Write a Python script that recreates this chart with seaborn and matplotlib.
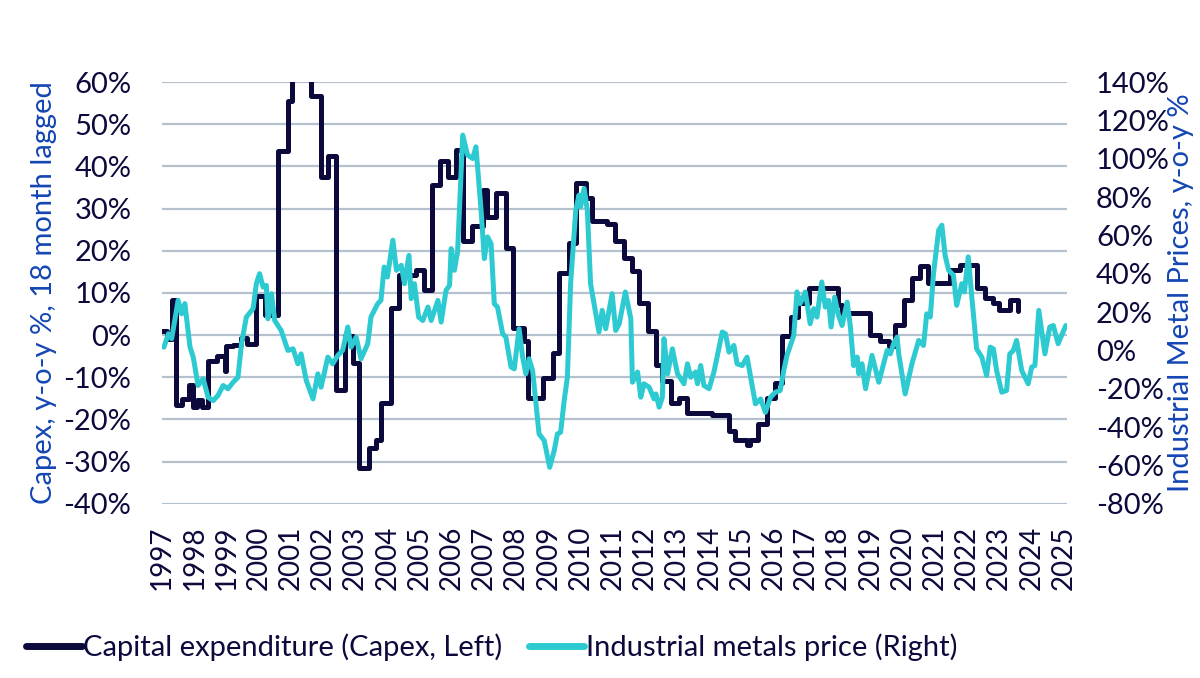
import pandas as pd
import matplotlib.pyplot as plt
import seaborn as sns
from matplotlib.ticker import FuncFormatter
from matplotlib.lines import Line2D

# Colores
NAVY = '#0C0A3C'
CYAN = '#2DCAD1'
BLUE = '#1446B4'
GRID = '#B5C1CC'

# Capex (izquierda), escalones: año decimal donde empieza cada nivel
capex_year = [1997.00, 1997.15, 1997.30, 1997.43, 1997.62, 1997.85, 1997.97, 1998.10, 1998.25,
              1998.43, 1998.72, 1998.95, 1999.00, 1999.20, 1999.45, 1999.65, 1999.93, 2000.19,
              2000.60, 2000.91, 2001.05, 2001.63, 2001.94, 2002.15, 2002.41, 2002.67, 2002.92,
              2003.13, 2003.44, 2003.65, 2003.80, 2004.12, 2004.36, 2004.90, 2005.15, 2005.39,
              2005.62, 2005.87, 2006.13, 2006.36, 2006.63, 2006.96, 2007.08, 2007.36, 2007.68,
              2007.89, 2008.25, 2008.37, 2008.82, 2009.13, 2009.33, 2009.64, 2009.87, 2010.16,
              2010.36, 2010.83, 2011.08, 2011.35, 2011.61, 2011.82, 2012.08, 2012.33, 2012.54,
              2012.80, 2013.06, 2013.30, 2014.09, 2014.60, 2014.81, 2015.17, 2015.27, 2015.50,
              2015.79, 2016.05, 2016.25, 2016.52, 2016.75, 2017.08, 2018.00, 2018.12, 2019.00,
              2019.31, 2019.57, 2019.77, 2020.03, 2020.29, 2020.55, 2020.80, 2021.48, 2021.79,
              2022.30, 2022.56, 2022.82, 2023.00, 2023.33, 2023.59]
capex_val = [1.0, -1.0, 8.4, -16.5, -15.2, -11.8, -17.0, -15.5, -17.0,
             -6.2, -5.0, -8.6, -2.6, -2.3, -0.7, -2.0, 9.2, 4.8,
             43.6, 55.4, 66.0, 56.6, 37.6, 42.5, -13.0, -0.3, -6.6,
             -31.5, -26.8, -24.8, -16.1, 6.4, 14.3, 15.5, 10.7, 35.6,
             41.2, 37.6, 44.0, 22.2, 25.8, 34.5, 28.1, 33.7, 20.6,
             1.7, -1.5, -15.0, -10.2, -4.3, 14.7, 21.8, 36.0, 32.5,
             27.0, 26.3, 22.4, 18.3, 15.1, 7.6, 0.9, -7.0, -11.0,
             -16.1, -15.0, -18.5, -18.9, -22.8, -24.8, -26.0, -24.8, -21.0,
             -15.0, -11.4, -0.3, 4.4, 7.6, 11.1, 7.2, 5.2, 0.1,
             -1.5, -2.7, 2.5, 8.4, 13.5, 16.3, 12.4, 15.5, 16.7,
             11.1, 8.8, 7.6, 6.0, 8.4, 5.6]

# Precio de metales industriales (derecha), y-o-y %
metal_year = [1997.06, 1997.20, 1997.30, 1997.50, 1997.61, 1997.71, 1997.87, 1997.97, 1998.12,
              1998.28, 1998.43, 1998.59, 1998.74, 1998.90, 1999.05, 1999.21, 1999.36, 1999.47,
              1999.62, 1999.83, 1999.93, 2000.03, 2000.14, 2000.24, 2000.29, 2000.40, 2000.50,
              2000.70, 2000.91, 2001.07, 2001.22, 2001.32, 2001.48, 2001.69, 2001.84, 2001.94,
              2002.15, 2002.30, 2002.46, 2002.61, 2002.77, 2002.87, 2003.03, 2003.18, 2003.39,
              2003.49, 2003.70, 2003.80, 2003.90, 2004.00, 2004.17, 2004.28, 2004.43, 2004.53,
              2004.67, 2004.74, 2004.84, 2004.97, 2005.10, 2005.26, 2005.36, 2005.57, 2005.67,
              2005.82, 2005.93, 2005.98, 2006.08, 2006.18, 2006.34, 2006.49, 2006.65, 2006.75,
              2006.91, 2007.01, 2007.11, 2007.22, 2007.32, 2007.42, 2007.58, 2007.68, 2007.84,
              2007.94, 2008.09, 2008.20, 2008.30, 2008.40, 2008.51, 2008.71, 2008.87, 2009.04,
              2009.18, 2009.28, 2009.38, 2009.49, 2009.59, 2009.69, 2009.85, 2009.95, 2010.00,
              2010.11, 2010.21, 2010.31, 2010.47, 2010.57, 2010.67, 2010.78, 2010.98, 2011.09,
              2011.20, 2011.39, 2011.56, 2011.61, 2011.77, 2011.87, 2011.97, 2012.13, 2012.28,
              2012.34, 2012.44, 2012.54, 2012.59, 2012.70, 2012.85, 2013.01, 2013.21, 2013.32,
              2013.42, 2013.57, 2013.63, 2013.73, 2013.83, 2013.99, 2014.14, 2014.25, 2014.40,
              2014.50, 2014.61, 2014.76, 2014.86, 2015.02, 2015.17, 2015.43, 2015.59, 2015.74,
              2015.90, 2016.05, 2016.20, 2016.31, 2016.41, 2016.62, 2016.72, 2016.82, 2016.98,
              2017.13, 2017.24, 2017.34, 2017.49, 2017.60, 2017.70, 2017.78, 2017.89, 2018.01,
              2018.12, 2018.28, 2018.38, 2018.48, 2018.59, 2018.64, 2018.74, 2018.85, 2019.05,
              2019.26, 2019.52, 2019.62, 2019.72, 2019.83, 2019.88, 2020.08, 2020.29, 2020.50,
              2020.65, 2020.75, 2020.86, 2020.96, 2021.12, 2021.22, 2021.32, 2021.43, 2021.58,
              2021.68, 2021.84, 2021.92, 2022.04, 2022.15, 2022.30, 2022.46, 2022.61, 2022.72,
              2022.82, 2022.92, 2023.08, 2023.23, 2023.33, 2023.44, 2023.54, 2023.70, 2023.90,
              2024.01, 2024.11, 2024.23, 2024.42, 2024.57, 2024.68, 2024.83, 2025.07]
metal_val = [1.7, 8.7, 6.1, 26.1, 19.1, 24.4, 1.7, -3.5, -18.3,
             -14.8, -24.4, -26.2, -23.5, -18.3, -20.0, -16.6, -14.0, 3.5,
             17.4, 21.8, 34.8, 40.0, 33.0, 33.9, 16.5, 29.6, 15.6,
             10.4, 0.0, 0.8, -7.0, -1.8, -15.7, -25.3, -12.2, -19.2,
             -3.5, -7.0, -2.6, 0.0, 12.2, 1.7, 6.9, -4.4, 3.5,
             17.4, 24.4, 26.1, 43.5, 38.3, 57.5, 41.8, 44.4, 34.8,
             49.6, 27.0, 34.8, 17.4, 15.6, 22.6, 15.6, 26.1, 14.8,
             31.3, 33.9, 53.1, 41.8, 51.4, 112.3, 101.9, 100.1, 106.2,
             73.1, 47.9, 59.2, 55.7, 24.4, 22.6, 8.7, 6.9, -8.7,
             -9.6, 11.3, -3.5, -12.2, -4.4, -10.5, -43.6, -47.0, -61.0,
             -52.3, -43.6, -42.7, -26.2, -14.0, 34.8, 73.1, 81.0, 74.9,
             84.5, 73.1, 34.8, 19.1, 9.6, 20.9, 11.3, 29.6, 10.4,
             13.9, 30.5, 16.5, -16.6, -11.3, -24.4, -17.4, -19.2, -25.3,
             -22.7, -29.6, -24.4, 6.1, -12.2, 0.8, -12.2, -17.4, -7.0,
             -14.0, -11.3, -17.4, -7.9, -18.3, -20.0, -11.3, -2.6, 9.6,
             8.7, -0.9, 2.6, -7.0, -7.9, -3.5, -27.9, -25.3, -32.3,
             -24.4, -21.8, -20.9, -10.5, -2.6, 7.8, 30.5, 24.4, 30.5,
             13.9, 21.8, 17.4, 35.7, 22.6, 26.1, 12.2, 27.8, 18.3,
             13.0, 25.2, 12.2, -7.9, -3.5, -12.2, -7.0, -20.0, -2.6,
             -16.6, 0.0, -1.8, 3.5, 6.9, -1.8, -22.7, -7.0, 5.2,
             2.6, 19.1, 17.4, 40.0, 62.7, 65.3, 49.6, 41.8, 39.2,
             23.5, 34.8, 30.5, 48.8, 27.8, 0.8, -3.5, -13.1, 1.7,
             0.8, -10.5, -21.8, -20.9, -1.8, 0.0, 5.2, -10.5, -17.4,
             -8.7, -7.9, 20.9, -1.8, 12.2, 13.0, 3.5, 13.0]

years = list(range(1997, 2026))

sns.set_theme(style="white")
plt.rcParams['font.family'] = ['Lato', 'DejaVu Sans']

fig = plt.figure(figsize=(12, 6.78), dpi=100)
ax = fig.add_axes([0.135, 0.257, 0.754, 0.622])
ax2 = ax.twinx()

df_capex = pd.DataFrame({'year': capex_year, 'capex': capex_val})
df_metal = pd.DataFrame({'year': metal_year, 'metal': metal_val})

sns.lineplot(data=df_capex, x='year', y='capex', ax=ax, color=NAVY, linewidth=3.6,
             drawstyle='steps-post', zorder=3)
sns.lineplot(data=df_metal, x='year', y='metal', ax=ax2, color=CYAN, linewidth=3.6, zorder=2)

# Ejes
ax.set_xlim(1997.0, 2025.1)
ax.set_ylim(-40, 60)
ax2.set_ylim(-80, 140)
ax.set_yticks(range(-40, 61, 10))
ax2.set_yticks(range(-80, 141, 20))
ax.yaxis.set_major_formatter(FuncFormatter(lambda v, p: f"{v:.0f}%"))
ax2.yaxis.set_major_formatter(FuncFormatter(lambda v, p: f"{v:.0f}%"))
ax.set_xticks(years)
ax.set_xticklabels([str(y) for y in years], rotation=90)

ax.grid(axis='y', color=GRID, linewidth=1.6)
ax.set_axisbelow(True)
for a in (ax, ax2):
    for s in a.spines.values():
        s.set_visible(False)
    a.tick_params(length=0, labelsize=21, colors=NAVY)
ax.tick_params(axis='y', pad=22)
ax.tick_params(axis='x', labelsize=20, pad=16)
ax2.tick_params(axis='y', pad=21)

ax.set_xlabel('')
ax.set_ylabel('Capex, y-o-y %, 18 month lagged', color=BLUE, fontsize=21, labelpad=5)
ax2.set_ylabel('Industrial Metal Prices, y-o-y %', color=BLUE, fontsize=21, labelpad=-1)

# Leyenda
handles = [Line2D([], [], color=NAVY, linewidth=5),
           Line2D([], [], color=CYAN, linewidth=5)]
labels = ['Capital expenditure (Capex, Left)', 'Industrial metals price (Right)']
fig.legend(handles, labels, loc='center left', bbox_to_anchor=(0.0, 0.045), ncol=2,
           frameon=False, fontsize=21, handlelength=1.9, handletextpad=0.05,
           columnspacing=0.9, labelcolor=NAVY)

fig.savefig('out.png', dpi=100)
plt.close(fig)
